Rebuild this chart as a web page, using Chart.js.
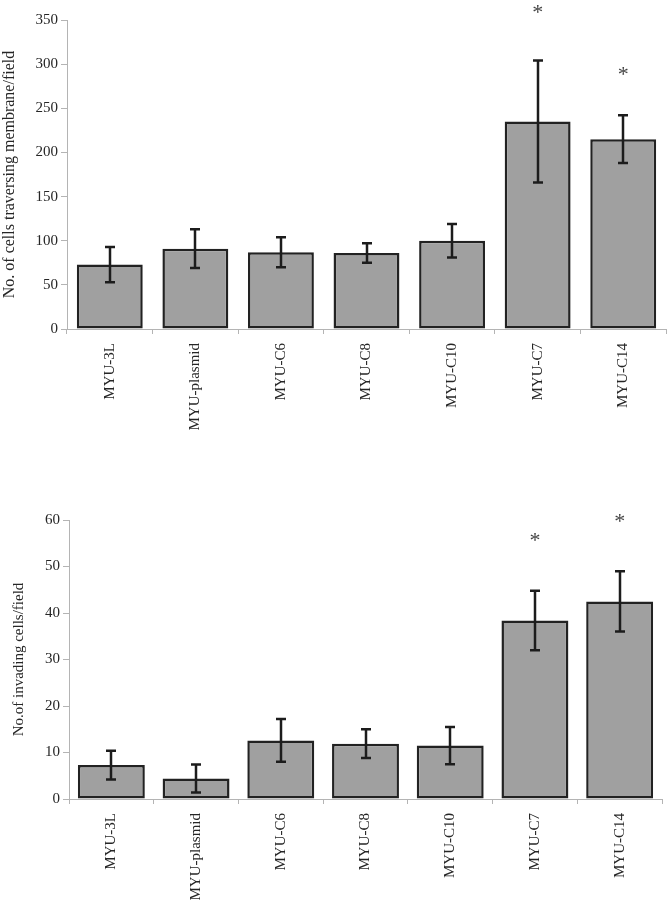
<!DOCTYPE html>
<html>
<head>
<meta charset="utf-8">
<script src="https://cdn.jsdelivr.net/npm/chart.js@4.4.1/dist/chart.umd.min.js"></script>
<style>
  html, body { margin: 0; padding: 0; background: #fff; }
  .box { position: absolute; left: 0; width: 671px; }
  #topBox { top: 0; height: 450px; }
  #bottomBox { top: 470px; height: 430px; }
</style>
</head>
<body>
<div class="box" id="topBox"><canvas id="migrationChart"></canvas></div>
<div class="box" id="bottomBox"><canvas id="invasionChart"></canvas></div>
<script>
const categories = ['MYU-3L', 'MYU-plasmid', 'MYU-C6', 'MYU-C8', 'MYU-C10', 'MYU-C7', 'MYU-C14'];

// top panel: cells traversing membrane
const migrationMeans = [73, 91, 87, 86, 100, 235, 215];
const migrationErrors = [20, 22, 17, 11, 19, 69, 27];
const migrationStars = [null, null, null, null, null, 362, 292];

// bottom panel: invading cells
const invasionMeans = [7.3, 4.4, 12.6, 11.9, 11.5, 38.4, 42.5];
const invasionErrors = [3.1, 3.0, 4.6, 3.1, 4.0, 6.4, 6.5];
const invasionStars = [null, null, null, null, null, 56.3, 60.4];

const serif = "'Liberation Serif', 'DejaVu Serif', serif";
const inkColor = '#262626';
const axisColor = '#b4b4b4';

// error bars + significance stars, placed through the chart's own scales
const errorBarPlugin = {
    id: 'errorBars',
    afterDatasetsDraw(chart, args, opts) {
        const meta = chart.getDatasetMeta(0);
        const yScale = chart.scales.y;
        const values = chart.data.datasets[0].data;
        const ctx = chart.ctx;
        ctx.save();
        ctx.strokeStyle = '#1c1c1c';
        ctx.lineWidth = 2.5;
        meta.data.forEach((bar, i) => {
            const err = opts.errors[i];
            const top = yScale.getPixelForValue(values[i] + err);
            const bottom = yScale.getPixelForValue(values[i] - err);
            const x = Math.round(bar.x);
            ctx.beginPath();
            ctx.moveTo(x, top);
            ctx.lineTo(x, bottom);
            ctx.moveTo(x - 5, top);
            ctx.lineTo(x + 5, top);
            ctx.moveTo(x - 5, bottom);
            ctx.lineTo(x + 5, bottom);
            ctx.stroke();
        });

        ctx.fillStyle = '#444';
        ctx.font = '22px ' + serif;
        ctx.textAlign = 'center';
        ctx.textBaseline = 'alphabetic';
        const m = ctx.measureText('*');
        const shift = (m.actualBoundingBoxAscent - m.actualBoundingBoxDescent) / 2;
        opts.stars.forEach((s, i) => {
            if (s == null) return;
            ctx.fillText('*', meta.data[i].x, yScale.getPixelForValue(s) + shift);
        });
        ctx.restore();
    }
};

function makeChart(canvasId, means, errors, stars, opts) {
    const ctx = document.getElementById(canvasId).getContext('2d');
    return new Chart(ctx, {
        type: 'bar',
        data: {
            labels: categories,
            datasets: [{
                data: means,
                backgroundColor: '#a0a0a0',
                borderColor: '#222',
                borderWidth: 2.5,
                borderSkipped: false,
                categoryPercentage: 1,
                barPercentage: opts.barPct
            }]
        },
        options: {
            responsive: true,
            maintainAspectRatio: false,
            animation: false,
            layout: { padding: opts.padding },
            plugins: {
                legend: { display: false },
                tooltip: { enabled: false },
                errorBars: { errors: errors, stars: stars }
            },
            scales: {
                x: {
                    afterFit: (scale) => { scale.height = opts.xHeight; },
                    border: { color: axisColor, width: 1 },
                    grid: { offset: true, drawOnChartArea: false, color: axisColor, tickLength: 5 },
                    ticks: {
                        color: inkColor,
                        minRotation: 90,
                        maxRotation: 90,
                        padding: 9,
                        font: { family: serif, size: 15 }
                    }
                },
                y: {
                    min: 0,
                    max: opts.max,
                    afterFit: (scale) => { scale.width = opts.yWidth; },
                    border: { color: axisColor, width: 1 },
                    grid: { drawOnChartArea: false, color: axisColor, tickLength: 6 },
                    ticks: {
                        stepSize: opts.step,
                        color: inkColor,
                        padding: 3,
                        font: { family: serif, size: 15 }
                    },
                    title: {
                        display: true,
                        text: opts.title,
                        color: inkColor,
                        padding: { top: opts.titleTop, bottom: 0 },
                        font: { family: serif, size: opts.titleSize }
                    }
                }
            }
        },
        plugins: [errorBarPlugin]
    });
}

makeChart('migrationChart', migrationMeans, migrationErrors, migrationStars, {
    barPct: 0.77,
    padding: { top: 20, right: 5, left: 0, bottom: 0 },
    xHeight: 121,
    yWidth: 67,
    max: 350,
    step: 50,
    title: 'No. of cells traversing membrane/field',
    titleTop: 0,
    titleSize: 16
});

makeChart('invasionChart', invasionMeans, invasionErrors, invasionStars, {
    barPct: 0.79,
    padding: { top: 50, right: 9, left: 0, bottom: 0 },
    xHeight: 101,
    yWidth: 69,
    max: 60,
    step: 10,
    title: 'No.of invading cells/field',
    titleTop: 10,
    titleSize: 15
});
</script>
</body>
</html>
